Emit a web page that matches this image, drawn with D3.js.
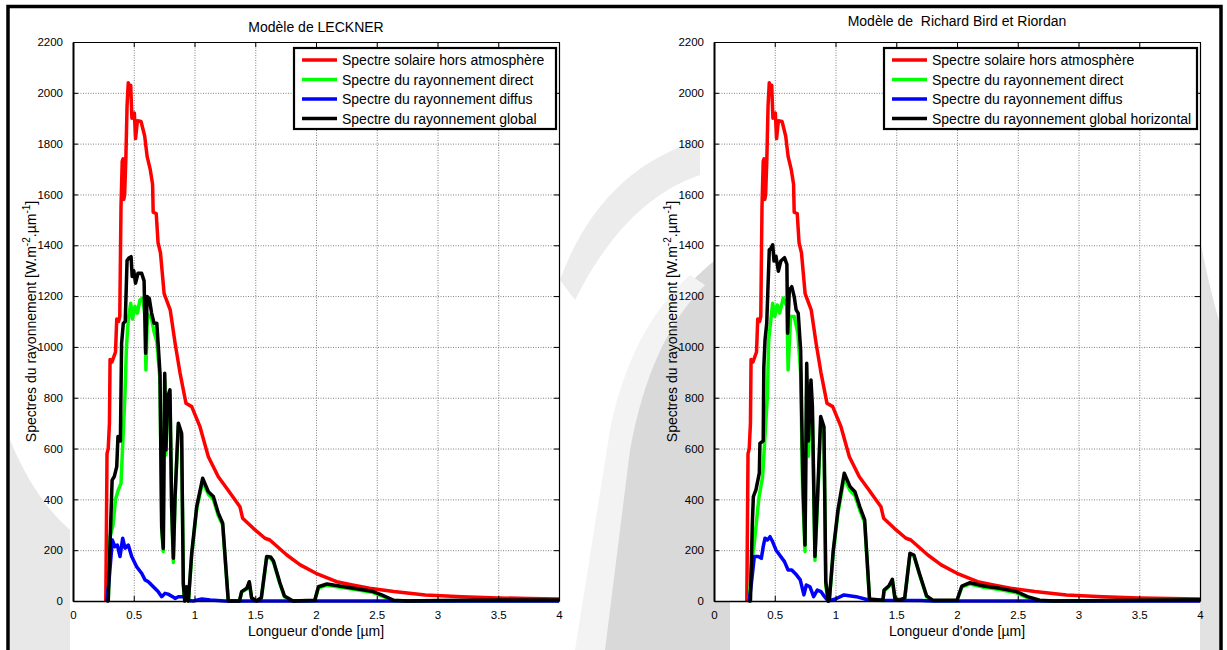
<!DOCTYPE html>
<html>
<head>
<meta charset="utf-8">
<script src="https://cdn.jsdelivr.net/npm/d3@7"></script>
<style>
  body { margin: 0; background: #fff; }
  text { font-family: "Liberation Sans", Arial, sans-serif; fill: #000; }
</style>
</head>
<body>
<div id="vis"></div>
<script>
let W = 1227, H = 650;

// tick values shared by both panels
const xTicks = [0, 0.5, 1, 1.5, 2, 2.5, 3, 3.5, 4];
const yTicks = [0, 200, 400, 600, 800, 1000, 1200, 1400, 1600, 1800, 2000, 2200];

// extraterrestrial spectrum (same in both panels)
const extLambda = [0.27, 0.28, 0.29, 0.30, 0.305, 0.32, 0.335, 0.35, 0.36, 0.375, 0.385, 0.395, 0.405, 0.412, 0.418, 0.425, 0.435, 0.445, 0.455, 0.465, 0.475, 0.485, 0.495, 0.505, 0.515, 0.53, 0.56, 0.59, 0.61, 0.635, 0.655, 0.66, 0.685, 0.70, 0.72, 0.75, 0.80, 0.84, 0.88, 0.93, 0.977, 1.045, 1.114, 1.196, 1.265, 1.374, 1.396, 1.484, 1.58, 1.62, 1.76, 1.87, 2.0, 2.17, 2.3, 2.44, 2.64, 2.9, 3.2, 3.5, 3.75, 4.0];
const extValues = [0, 580, 600, 700, 950, 940, 960, 980, 1110, 1100, 1120, 1550, 1730, 1740, 1580, 1600, 1740, 1950, 2040, 2000, 2030, 1900, 1910, 1920, 1820, 1890, 1887, 1830, 1750, 1700, 1640, 1530, 1525, 1410, 1370, 1210, 1146, 1015, 900, 778, 765, 686, 568, 489, 444, 371, 326, 286, 247, 240, 181, 142, 109, 76, 63, 50, 37, 24, 17, 12, 10, 8];

// Leckner model
const leckDirLambda = [0.29, 0.305, 0.33, 0.35, 0.373, 0.395, 0.428, 0.44, 0.455, 0.475, 0.49, 0.51, 0.53, 0.551, 0.573, 0.593, 0.60, 0.613, 0.647, 0.667, 0.69, 0.716, 0.73, 0.743, 0.755, 0.765, 0.776, 0.798, 0.812, 0.826, 0.84, 0.867, 0.894, 0.908, 0.92, 0.935, 0.95, 0.977, 1.018, 1.067, 1.114, 1.155, 1.196, 1.232, 1.278, 1.37, 1.388, 1.43, 1.451, 1.47, 1.51, 1.55, 1.594, 1.627, 1.65, 1.704, 1.74, 1.81, 1.99, 2.02, 2.09, 2.23, 2.36, 2.47, 2.54, 2.64, 2.75, 4.0];
const leckDirValues = [0, 253, 300, 400, 437, 463, 818, 1001, 1106, 1172, 1110, 1160, 1133, 1185, 1192, 1120, 909, 1130, 1110, 1060, 1020, 870, 280, 195, 870, 575, 780, 810, 355, 152, 400, 690, 650, 55, 0, 50, 0, 180, 362, 470, 420, 400, 336, 298, 0, 0, 35, 47, 72, 11, 0, 10, 170, 168, 153, 66, 17, 0, 1, 52, 62, 52, 42, 33, 20, 1, 0, 2];
const leckDifLambda = [0.28, 0.30, 0.324, 0.345, 0.365, 0.387, 0.409, 0.428, 0.455, 0.483, 0.524, 0.565, 0.593, 0.62, 0.661, 0.70, 0.73, 0.757, 0.783, 0.82, 0.84, 0.867, 0.908, 0.935, 0.99, 1.06, 1.13, 1.25, 4.0];
const leckDifValues = [0, 100, 240, 214, 220, 175, 247, 208, 220, 175, 135, 109, 83, 76, 56, 37, 17, 30, 27, 17, 10, 17, 17, 3, 0, 8, 4, 0, 0];
const leckGloLambda = [0.275, 0.29, 0.31, 0.322, 0.34, 0.36, 0.37, 0.39, 0.40, 0.414, 0.43, 0.445, 0.46, 0.478, 0.487, 0.50, 0.515, 0.535, 0.565, 0.585, 0.598, 0.61, 0.628, 0.647, 0.667, 0.69, 0.716, 0.73, 0.743, 0.755, 0.765, 0.776, 0.798, 0.812, 0.826, 0.84, 0.867, 0.894, 0.908, 0.92, 0.935, 0.95, 0.977, 1.018, 1.067, 1.114, 1.155, 1.196, 1.232, 1.278, 1.37, 1.388, 1.43, 1.451, 1.47, 1.51, 1.55, 1.594, 1.627, 1.65, 1.704, 1.74, 1.81, 1.99, 2.02, 2.09, 2.23, 2.36, 2.47, 2.54, 2.64, 2.75, 3.0, 3.5, 4.0];
const leckGloValues = [0, 0, 300, 476, 490, 529, 647, 630, 1014, 1093, 1100, 1340, 1350, 1355, 1277, 1300, 1251, 1290, 1290, 1260, 975, 1198, 1190, 1133, 1093, 1093, 896, 293, 207, 896, 594, 800, 831, 371, 168, 410, 700, 660, 70, 0, 56, 0, 188, 371, 483, 430, 411, 346, 306, 0, 0, 37, 50, 76, 13, 0, 13, 175, 173, 157, 70, 20, 0, 3, 56, 67, 56, 46, 37, 24, 3, 0, 2, 4, 4];

// Richard Bird & Riordan model
const birdDirLambda = [0.29, 0.31, 0.33, 0.37, 0.40, 0.44, 0.45, 0.483, 0.5, 0.52, 0.54, 0.57, 0.6, 0.61, 0.63, 0.66, 0.69, 0.713, 0.73, 0.749, 0.763, 0.777, 0.798, 0.81, 0.831, 0.86, 0.878, 0.905, 0.92, 0.94, 0.95, 0.982, 1.02, 1.072, 1.12, 1.16, 1.2, 1.24, 1.28, 1.39, 1.4, 1.44, 1.468, 1.49, 1.57, 1.613, 1.645, 1.69, 1.75, 1.8, 2.0, 2.04, 2.107, 2.22, 2.35, 2.49, 2.58, 2.68, 2.8, 4.0];
const birdDirValues = [0, 150, 220, 408, 489, 813, 1028, 1172, 1120, 1165, 1133, 1192, 1160, 909, 1120, 1120, 1054, 900, 420, 195, 860, 570, 815, 720, 160, 470, 690, 660, 60, 0, 5, 193, 345, 485, 435, 415, 358, 308, 5, 2, 40, 57, 82, 5, 10, 185, 178, 106, 17, 1, 1, 55, 67, 54, 45, 32, 13, 1, 0, 3];
const birdDifLambda = [0.29, 0.31, 0.332, 0.365, 0.39, 0.405, 0.42, 0.44, 0.461, 0.483, 0.51, 0.54, 0.58, 0.61, 0.64, 0.68, 0.71, 0.74, 0.76, 0.79, 0.82, 0.85, 0.88, 0.91, 0.94, 1.0, 1.07, 1.17, 1.28, 1.7, 1.8, 4.0];
const birdDifValues = [0, 80, 175, 175, 168, 214, 247, 240, 253, 233, 201, 181, 155, 122, 122, 102, 83, 24, 63, 56, 17, 43, 37, 17, 0, 8, 24, 17, 3, 2, 0, 0];
const birdGloLambda = [0.283, 0.30, 0.315, 0.324, 0.345, 0.373, 0.378, 0.405, 0.41, 0.42, 0.434, 0.455, 0.469, 0.483, 0.494, 0.51, 0.53, 0.55, 0.58, 0.60, 0.606, 0.62, 0.64, 0.66, 0.676, 0.693, 0.713, 0.73, 0.749, 0.763, 0.777, 0.798, 0.81, 0.831, 0.86, 0.878, 0.905, 0.92, 0.94, 0.95, 0.982, 1.02, 1.072, 1.12, 1.16, 1.2, 1.24, 1.28, 1.39, 1.4, 1.44, 1.468, 1.49, 1.53, 1.57, 1.613, 1.645, 1.69, 1.75, 1.8, 2.0, 2.04, 2.107, 2.22, 2.35, 2.49, 2.58, 2.68, 2.8, 3.5, 4.0];
const birdGloValues = [0, 0, 300, 411, 437, 503, 620, 630, 920, 1028, 1093, 1382, 1388, 1402, 1338, 1357, 1298, 1338, 1351, 1325, 1054, 1224, 1237, 1198, 1146, 1133, 988, 503, 220, 936, 630, 870, 765, 175, 503, 726, 686, 76, 0, 8, 201, 358, 503, 450, 430, 371, 319, 8, 3, 43, 60, 85, 8, 3, 13, 188, 181, 109, 20, 3, 3, 59, 72, 59, 50, 37, 17, 3, 0, 3, 5];

const legendLabelsL = ['Spectre solaire hors atmosphère', 'Spectre du rayonnement direct', 'Spectre du rayonnement diffus', 'Spectre du rayonnement global'];
const legendLabelsR = ['Spectre solaire hors atmosphère', 'Spectre du rayonnement direct', 'Spectre du rayonnement diffus', 'Spectre du rayonnement global horizontal'];
const colors = ['#ff0000', '#00ff00', '#0000ff', '#000000'];

let svg = d3.select('#vis').append('svg')
  .attr('width', W)
  .attr('height', H);

svg.append('rect').attr('width', W).attr('height', H).attr('fill', '#fff');

// faint watermark behind the figure
let wm = svg.append('g');
wm.append('path')
  .attr('d', 'M600,650 L640,380 Q665,290 730,250 L730,650 Z')
  .attr('fill', '#d9d9d9');
wm.append('path')
  .attr('d', 'M575,650 L610,430 Q630,330 690,275 L705,285 Q650,340 630,450 L605,650 Z')
  .attr('fill', '#f3f3f3');
wm.append('path')
  .attr('d', 'M560,280 Q600,170 700,140 L700,175 Q625,200 575,300 Z')
  .attr('fill', '#ececec');
wm.append('path')
  .attr('d', 'M10,440 Q35,500 70,530 L70,650 L10,650 Z')
  .attr('fill', '#e8e8e8');
wm.append('path')
  .attr('d', 'M1200,240 Q1212,300 1222,330 L1222,650 L1200,650 Z')
  .attr('fill', '#e2e2e2');

// outer frame
svg.append('rect')
  .attr('x', 8).attr('y', 6.5)
  .attr('width', 1213).attr('height', 660)
  .attr('fill', 'none')
  .attr('stroke', '#000')
  .attr('stroke-width', 3.5);

function panel(cfg) {
  let x0 = cfg.left, x1 = cfg.left + 486, yTop = 42, yBot = 601;

  let xScale = d3.scaleLinear().domain([0, 4]).range([x0, x1]);
  let yScale = d3.scaleLinear().domain([0, 2200]).range([yBot, yTop]);

  let g = svg.append('g');

  g.append('rect')
    .attr('x', x0).attr('y', yTop)
    .attr('width', x1 - x0).attr('height', yBot - yTop)
    .attr('fill', '#fff');

  // grid
  g.append('g')
    .attr('transform', `translate(0,${yBot})`)
    .call(d3.axisBottom(xScale).tickValues(xTicks).tickSize(-(yBot - yTop)).tickFormat(''))
    .call(s => s.select('.domain').remove())
    .selectAll('line')
    .attr('stroke', '#808080')
    .attr('stroke-dasharray', '1,1.5');
  g.append('g')
    .attr('transform', `translate(${x0},0)`)
    .call(d3.axisLeft(yScale).tickValues(yTicks).tickSize(-(x1 - x0)).tickFormat(''))
    .call(s => s.select('.domain').remove())
    .selectAll('line')
    .attr('stroke', '#808080')
    .attr('stroke-dasharray', '1,1.5');

  // curves
  let line = d3.line()
    .x(d => xScale(d[0]))
    .y(d => yScale(d[1]));

  cfg.series.forEach(function(s, i) {
    let pts = s.lambda.map((l, k) => [l, s.values[k]]);
    g.append('path')
      .datum(pts)
      .attr('d', line)
      .attr('fill', 'none')
      .attr('stroke', s.color)
      .attr('stroke-width', 3.5)
      .attr('stroke-linejoin', 'round');
  });

  // axes with inward ticks on all sides
  let xAxisB = g.append('g')
    .attr('transform', `translate(0,${yBot})`)
    .call(d3.axisBottom(xScale).tickValues(xTicks).tickSizeInner(-5).tickSizeOuter(0).tickPadding(10)
      .tickFormat(d => String(d)));
  let xAxisT = g.append('g')
    .attr('transform', `translate(0,${yTop})`)
    .call(d3.axisTop(xScale).tickValues(xTicks).tickSizeInner(-5).tickSizeOuter(0).tickFormat(''));
  let yAxisL = g.append('g')
    .attr('transform', `translate(${x0},0)`)
    .call(d3.axisLeft(yScale).tickValues(yTicks).tickSizeInner(-5).tickSizeOuter(0).tickPadding(10)
      .tickFormat(d => String(d)));
  let yAxisR = g.append('g')
    .attr('transform', `translate(${x1},0)`)
    .call(d3.axisRight(yScale).tickValues(yTicks).tickSizeInner(-5).tickSizeOuter(0).tickFormat(''));

  [xAxisB, xAxisT, yAxisL, yAxisR].forEach(function(a) {
    a.select('.domain').attr('stroke', '#000').attr('stroke-width', 1.2);
    a.selectAll('line').attr('stroke', '#000');
    a.selectAll('text')
      .style('font-size', '11.5px')
      .style('font-family', '"Liberation Sans", Arial, sans-serif')
      .attr('fill', '#000');
  });
  yAxisL.select('.domain').attr('stroke-width', 2);
  xAxisB.select('.domain').attr('stroke-width', 1.5);

  // title
  g.append('text')
    .attr('x', (x0 + x1) / 2)
    .attr('y', cfg.titleY)
    .attr('text-anchor', 'middle')
    .style('font-size', '14px')
    .style('white-space', 'pre')
    .attr('xml:space', 'preserve')
    .text(cfg.title);

  // x label
  g.append('text')
    .attr('x', (x0 + x1) / 2)
    .attr('y', 636)
    .attr('text-anchor', 'middle')
    .style('font-size', '14px')
    .text("Longueur d'onde [µm]");

  // y label
  let yl = g.append('text')
    .attr('transform', `translate(${x0 - 37},${(yTop + yBot) / 2}) rotate(-90)`)
    .attr('text-anchor', 'middle')
    .style('font-size', '14px');
  yl.append('tspan').text('Spectres du rayonnement [W.m');
  yl.append('tspan').attr('dy', -6).style('font-size', '10px').text('-2');
  yl.append('tspan').attr('dy', 6).text('.µm');
  yl.append('tspan').attr('dy', -6).style('font-size', '10px').text('-1');
  yl.append('tspan').attr('dy', 6).text(']');

  // legend
  let lg = g.append('g');
  lg.append('rect')
    .attr('x', cfg.legX).attr('y', 48)
    .attr('width', cfg.legW).attr('height', 81)
    .attr('fill', '#fff')
    .attr('stroke', '#000')
    .attr('stroke-width', 2.2);
  cfg.labels.forEach(function(lab, i) {
    let yy = 60 + i * 19.5;
    lg.append('line')
      .attr('x1', cfg.legX + 8).attr('x2', cfg.legX + 43)
      .attr('y1', yy).attr('y2', yy)
      .attr('stroke', colors[i])
      .attr('stroke-width', 3.5);
    lg.append('text')
      .attr('x', cfg.legX + 48)
      .attr('y', yy + 5)
      .style('font-size', '14px')
      .text(lab);
  });
}

panel({
  left: 73,
  title: 'Modèle de LECKNER',
  titleY: 32,
  labels: legendLabelsL,
  legX: 294,
  legW: 262,
  series: [
    { lambda: extLambda, values: extValues, color: colors[0] },
    { lambda: leckDirLambda, values: leckDirValues, color: colors[1] },
    { lambda: leckDifLambda, values: leckDifValues, color: colors[2] },
    { lambda: leckGloLambda, values: leckGloValues, color: colors[3] }
  ]
});

panel({
  left: 714,
  title: 'Modèle de  Richard Bird et Riordan',
  titleY: 26,
  labels: legendLabelsR,
  legX: 884,
  legW: 313,
  series: [
    { lambda: extLambda, values: extValues, color: colors[0] },
    { lambda: birdDirLambda, values: birdDirValues, color: colors[1] },
    { lambda: birdDifLambda, values: birdDifValues, color: colors[2] },
    { lambda: birdGloLambda, values: birdGloValues, color: colors[3] }
  ]
});
</script>
</body>
</html>
